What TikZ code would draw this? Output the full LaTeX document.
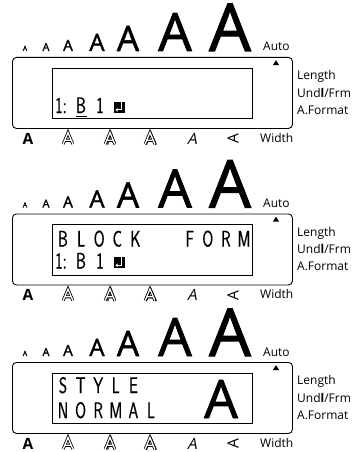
\documentclass[tikz,border=0pt]{standalone}
\usepackage{fontspec}
\setmainfont{Open Sans}
\newfontfamily\lcdfont[FakeStretch=0.7,FakeBold=0.6]{Latin Modern Sans}
\newfontfamily\sizefont[FakeBold=1.6]{Open Sans}
\newfontfamily\slantsans[FakeSlant=0.22]{Open Sans}
\usetikzlibrary{arrows.meta,positioning}
\tikzset{
  panelbox/.style={draw,line width=0.9pt,rounded corners=4pt,inner sep=0pt,anchor=north west},
  screen/.style={draw,line width=0.8pt,inner sep=0pt,anchor=north west},
  side/.style={anchor=base west,inner sep=0pt,font=\fontsize{12}{12}\selectfont},
  sizeA/.style={anchor=base,inner sep=0pt},
  lcd/.style={anchor=base,inner sep=0pt,font=\fontsize{22.5}{22.5}\lcdfont},
  icon/.style={anchor=base,inner sep=0pt,font=\fontsize{15.5}{15.5}\selectfont},
  retkey/.style={fill=black,inner sep=0pt,minimum width=11pt,minimum height=11pt,anchor=south},
  hollow/.style={line width=0.8pt,double=white,double distance=1.3pt},
  outlineA/.pic={\draw[hollow] (-4.8,0) -- (0,-11.5) -- (4.8,0) (-2.7,-3.7) -- (2.7,-3.7);}
}
% one display: frame, size row, side labels and style row
\newcommand\lcdpanel[2]{%
  \begin{scope}[yshift=-#2pt]
    \node[panelbox,minimum width=280pt,minimum height=71pt] (#1-box) at (12,0) {};
    \node[screen,minimum width=200pt,minimum height=50.5pt] (#1-screen) at (52,10.5) {};
    \fill (272.8,8.2) -- (279.2,8.2) -- (276,3.2) -- cycle;
    \foreach \x/\s in {25/7,46/11,68/15.5,97/24,128/35,175/53,230/66}
      \node[sizeA,font=\fontsize{\s}{\s}\sizefont] (#1-a\x) at (\x,-6) {A};
    \node[side] (#1-auto) at (263,-6) {Auto};
    \node[side] (#1-len) at (297,22.5) {Length};
    \node[side] (#1-undl) at (297,40) {Und\textbf{l}/Frm};
    \node[side] (#1-fmt) at (297,57) {A.Format};
    \node[side] (#1-width) at (260,85) {Width};
    \node[icon] (#1-bold) at (28,87) {\bfseries A};
    \pic at (68,87) {outlineA};
    \draw[line width=2.4pt,black!65] (107.2,87.5) -- (111,76.5) -- (114.8,87.5);
    \pic at (110,87) {outlineA};
    \draw[line width=1.8pt] (146,87.6) -- (151,76.2) -- (156,87.6) (148.6,84) -- (153.8,84);
    \pic at (150,87) {outlineA};
    \node[icon] (#1-ital) at (192,87) {\slantsans A};
    \node[icon,rotate=90,anchor=center] (#1-vert) at (233,82) {A};
  \end{scope}}
% enter key glyph
\newcommand\retglyph[3]{%
  \node[retkey] (#1) at (#2,#3) {};
  \draw[white,line width=1.1pt,-{Stealth[length=2.6pt,width=3.8pt]}] ([shift={(2.4,-2.6)}]#1.north) |- ([shift={(-3.6,-3.2)}]#1.south);}

\begin{document}
\begin{tikzpicture}[x=1pt,y=-1pt]
  \useasboundingbox (0,0) rectangle (358,452);

  % first display
  \lcdpanel{p}{57}
  \begin{scope}[yshift=-57pt]
    \node[lcd] (p-l0) at (61,56) {1:};
    \node[lcd] (p-l1) at (81,56) {B};
    \draw[line width=0.9pt] (75.5,59) -- (87,59);
    \node[lcd] (p-l2) at (100,56) {1};
    \retglyph{p-ret}{119}{56}
  \end{scope}

  % second display
  \lcdpanel{q}{213.5}
  \begin{scope}[yshift=-213.5pt]
    \foreach \ch/\k in {B/0,L/1,O/2,C/3,K/4,F/7,O/8,R/9,M/10}
      \node[lcd] (q-u\k) at (63+18.1*\k,33) {\ch};
    \node[lcd] (q-l0) at (61,55) {1:};
    \node[lcd] (q-l1) at (81,55) {B};
    \node[lcd] (q-l2) at (100,55) {1};
    \retglyph{q-ret}{119}{55}
  \end{scope}

  % third display
  \lcdpanel{r}{362}
  \begin{scope}[yshift=-362pt]
    \foreach \ch/\k in {S/0,T/1,Y/2,L/3,E/4}
      \node[lcd] (r-u\k) at (63+17.6*\k,31) {\ch};
    \foreach \ch/\k in {N/0,O/1,R/2,M/3,A/4,L/5}
      \node[lcd] (r-d\k) at (63+17.6*\k,56) {\ch};
    \node[sizeA,font=\fontsize{53}{53}\sizefont] (r-big) at (221,56) {A};
  \end{scope}
\end{tikzpicture}
\end{document}
